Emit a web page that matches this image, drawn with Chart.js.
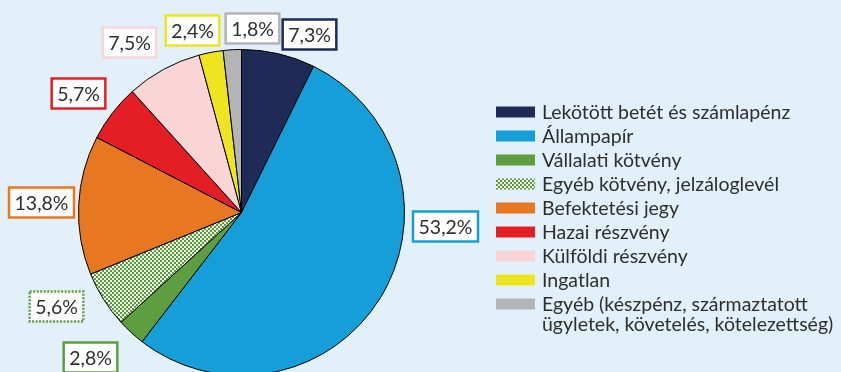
<!DOCTYPE html>
<html>
<head>
<meta charset="utf-8">
<script src="https://cdn.jsdelivr.net/npm/chart.js@4.4.1/dist/chart.umd.min.js"></script>
<style>
  html, body { margin: 0; padding: 0; background: #e2f1f9; overflow: hidden; }
  #wrap { position: absolute; left: 0; top: 0; width: 841px; height: 380px; }
</style>
</head>
<body>
<div id="wrap"><canvas id="portfolioChart"></canvas></div>
<script>
// portfolio composition
const categories = [
  'Lekötött betét és számlapénz',
  'Állampapír',
  'Vállalati kötvény',
  'Egyéb kötvény, jelzáloglevél',
  'Befektetési jegy',
  'Hazai részvény',
  'Külföldi részvény',
  'Ingatlan',
  ['Egyéb (készpénz, származtatott', 'ügyletek, követelés, kötelezettség)']
];
const shares = [7.3, 53.2, 2.8, 5.6, 13.8, 5.7, 7.5, 2.4, 1.8];
const sliceColors = ['#1d2b56', '#169ed8', '#5e9e40', 'pattern', '#e87722', '#e31e25', '#fbd4d5', '#ece51f', '#b2b4b5'];

// where each value box sits, relative to the pie centre
const labelOffsets = [
  [68, -178], [204, 14], [-151, 145], [-185, 94], [-200, -10],
  [-163, -119], [-112, -170], [-49, -182], [11, -184]
];

const FONT = '19.5px Lato';
const TEXT_COLOR = '#2e2e2e';

// green / white checker fill
function makeChecker() {
  const c = document.createElement('canvas');
  c.width = 4; c.height = 4;
  const g = c.getContext('2d');
  g.fillStyle = '#eef5ea';
  g.fillRect(0, 0, 4, 4);
  g.fillStyle = '#5a9a3c';
  g.fillRect(0, 0, 2, 2);
  g.fillRect(2, 2, 2, 2);
  return c;
}

const ctx = document.getElementById('portfolioChart').getContext('2d');
const checker = ctx.createPattern(makeChecker(), 'repeat');
const fills = sliceColors.map(c => c === 'pattern' ? checker : c);

const valueBoxes = {
  id: 'valueBoxes',
  afterDatasetsDraw(chart) {
    const c = chart.ctx;
    const arcs = chart.getDatasetMeta(0).data;
    c.save();
    c.font = FONT;
    c.textAlign = 'center';
    c.textBaseline = 'middle';
    arcs.forEach((arc, i) => {
      const text = shares[i].toFixed(1).replace('.', ',') + '%';
      const w = c.measureText(text).width + 11;
      const h = 30;
      const cx = arc.x + labelOffsets[i][0];
      const cy = arc.y + labelOffsets[i][1];
      c.fillStyle = '#ffffff';
      c.fillRect(cx - w / 2, cy - h / 2, w, h);
      c.lineWidth = 2.5;
      if (sliceColors[i] === 'pattern') {
        c.strokeStyle = '#5e9e40';
        c.setLineDash([2, 1.5]);
      } else {
        c.strokeStyle = sliceColors[i];
        c.setLineDash([]);
      }
      c.strokeRect(cx - w / 2, cy - h / 2, w, h);
      c.setLineDash([]);
      c.fillStyle = TEXT_COLOR;
      c.fillText(text, cx, cy + 1);
    });
    c.restore();
  }
};

const sideLegend = {
  id: 'sideLegend',
  afterDraw(chart) {
    const c = chart.ctx;
    const x = 496, top = 112, step = 24;
    c.save();
    c.font = FONT;
    c.textBaseline = 'middle';
    c.textAlign = 'left';
    categories.forEach((label, i) => {
      const y = top + i * step;
      c.fillStyle = fills[i];
      c.fillRect(x, y - 5.5, 39, 11);
      c.fillStyle = TEXT_COLOR;
      const lines = Array.isArray(label) ? label : [label];
      lines.forEach((line, k) => c.fillText(line, x + 46, y + 1 + k * 20));
    });
    c.restore();
  }
};

new Chart(ctx, {
  type: 'pie',
  data: {
    labels: categories,
    datasets: [{
      data: shares,
      backgroundColor: fills,
      borderColor: '#000000',
      borderWidth: 1
    }]
  },
  options: {
    responsive: true,
    maintainAspectRatio: false,
    animation: false,
    layout: { padding: { left: 78, top: 49, right: 436, bottom: 4 } },
    plugins: {
      legend: { display: false },
      tooltip: { enabled: false }
    }
  },
  plugins: [valueBoxes, sideLegend]
});
</script>
</body>
</html>
